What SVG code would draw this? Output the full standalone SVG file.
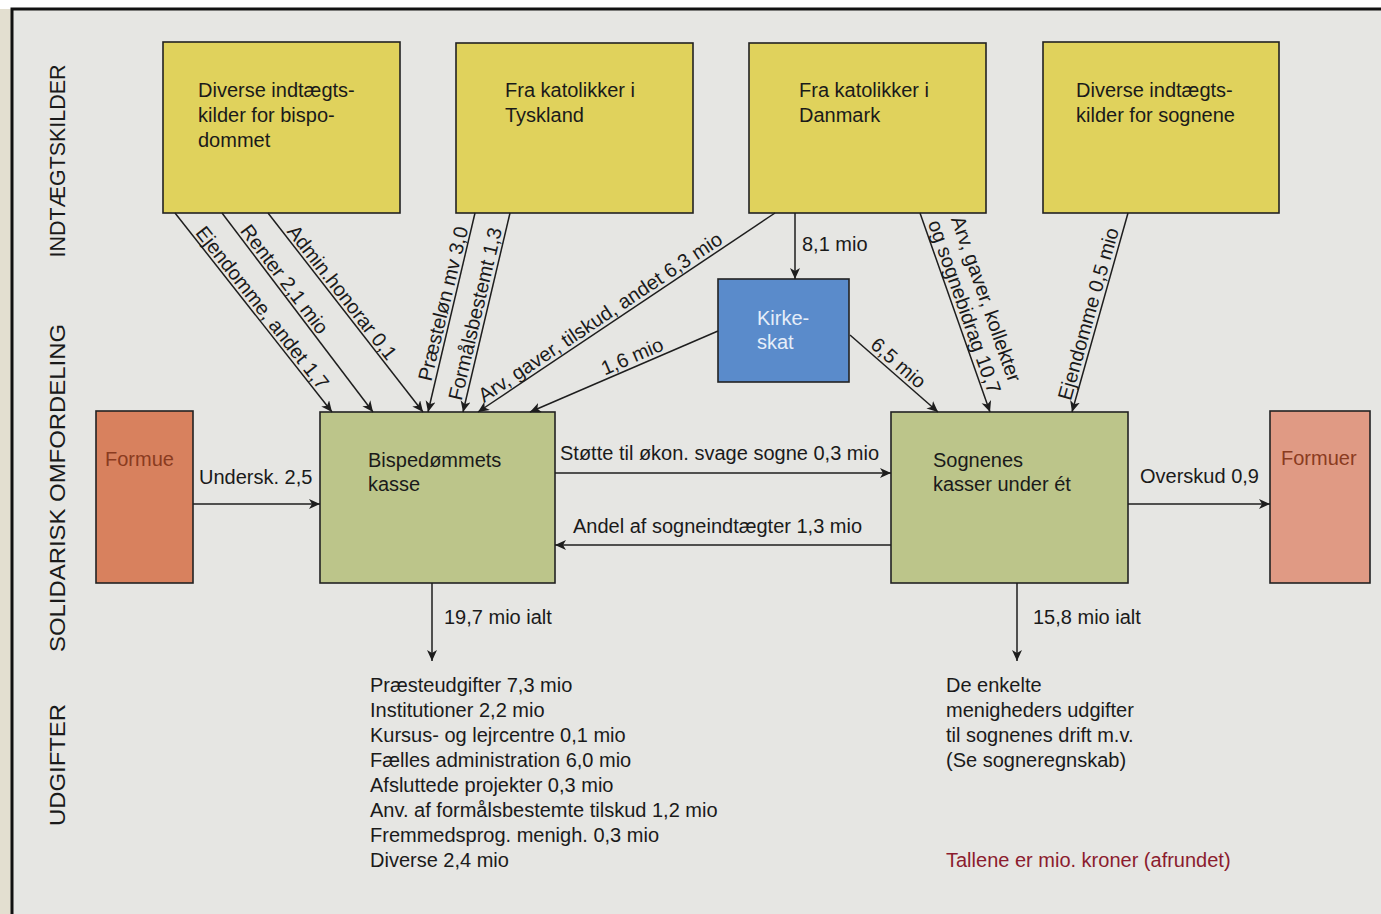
<svg xmlns="http://www.w3.org/2000/svg" width="1381" height="914" viewBox="0 0 1381 914">
<style>
text{font-family:"Liberation Sans",Arial,sans-serif;font-size:20px;fill:#1a1a1a}
.side{font-size:22px;text-anchor:middle}
.box{stroke:#222;stroke-width:1.6}
.yel{fill:#e0d25c}
.grn{fill:#bcc58a}
.con line{stroke:#1e1e1e;stroke-width:1.5;marker-end:url(#ah)}
</style>
<defs>
<marker id="ah" markerUnits="userSpaceOnUse" markerWidth="14" markerHeight="12" refX="11" refY="5" orient="auto">
<path d="M0,0 L11,5 L0,10 L3,5 z" fill="#1e1e1e"/>
</marker>
</defs>
<rect x="0" y="0" width="1381" height="914" fill="#ffffff"/>
<rect x="0" y="9" width="14" height="905" fill="#e3dfd0"/>
<rect x="12" y="9" width="1400" height="930" fill="#e6e6e3" stroke="#111" stroke-width="3"/>

<g id="sections">
<text class="side" transform="translate(65,161) rotate(-90)" textLength="193" lengthAdjust="spacingAndGlyphs">INDTÆGTSKILDER</text>
<text class="side" transform="translate(65,488) rotate(-90)" textLength="328" lengthAdjust="spacingAndGlyphs">SOLIDARISK OMFORDELING</text>
<text class="side" transform="translate(65,765) rotate(-90)" textLength="122" lengthAdjust="spacingAndGlyphs">UDGIFTER</text>
</g>

<g id="src-bisp">
<rect class="box yel" x="163" y="42" width="237" height="171"/>
<text x="198" y="97">Diverse indtægts-</text>
<text x="198" y="122">kilder for bispo-</text>
<text x="198" y="147">dommet</text>
</g>
<g id="src-tyskland">
<rect class="box yel" x="456" y="43" width="237" height="170"/>
<text x="505" y="97">Fra katolikker i</text>
<text x="505" y="122">Tyskland</text>
</g>
<g id="src-danmark">
<rect class="box yel" x="749" y="43" width="237" height="170"/>
<text x="799" y="97">Fra katolikker i</text>
<text x="799" y="122">Danmark</text>
</g>
<g id="src-sogne">
<rect class="box yel" x="1043" y="42" width="236" height="171"/>
<text x="1076" y="97">Diverse indtægts-</text>
<text x="1076" y="122">kilder for sognene</text>
</g>

<g id="kirkeskat">
<rect class="box" x="718" y="279" width="131" height="103" fill="#5a8bcb"/>
<text x="757" y="325" style="fill:#e6eef9">Kirke-</text>
<text x="757" y="349" style="fill:#e6eef9">skat</text>
</g>

<g id="formue">
<rect class="box" x="96" y="411" width="97" height="172" fill="#d8815e"/>
<text x="105" y="466" style="fill:#8a3b20">Formue</text>
</g>
<g id="bisp-kasse">
<rect class="box grn" x="320" y="412" width="235" height="171"/>
<text x="368" y="467">Bispedømmets</text>
<text x="368" y="491">kasse</text>
</g>
<g id="sogne-kasse">
<rect class="box grn" x="891" y="412" width="237" height="171"/>
<text x="933" y="467">Sognenes</text>
<text x="933" y="491">kasser under ét</text>
</g>
<g id="formuer">
<rect class="box" x="1270" y="411" width="100" height="172" fill="#e09a84"/>
<text x="1281" y="465" style="fill:#8a3b20">Formuer</text>
</g>

<g id="connectors" class="con">
<line x1="175" y1="213" x2="332" y2="412"/>
<line x1="222" y1="213" x2="373" y2="412"/>
<line x1="268" y1="213" x2="423" y2="412"/>
<line x1="475" y1="213" x2="428" y2="412"/>
<line x1="510" y1="213" x2="463" y2="412"/>
<line x1="775" y1="213" x2="478" y2="412"/>
<line x1="718" y1="331" x2="530" y2="412"/>
<line x1="795" y1="213" x2="795" y2="279"/>
<line x1="850" y1="335" x2="938" y2="412"/>
<line x1="920" y1="213" x2="990" y2="412"/>
<line x1="1128" y1="213" x2="1072" y2="412"/>
<line x1="193" y1="504" x2="320" y2="504"/>
<line x1="555" y1="473" x2="891" y2="473"/>
<line x1="891" y1="545" x2="555" y2="545"/>
<line x1="1128" y1="504" x2="1270" y2="504"/>
<line x1="432" y1="583" x2="432" y2="661"/>
<line x1="1017" y1="583" x2="1017" y2="661"/>
</g>

<g id="connector-labels">
<text transform="translate(175,213) rotate(51.7)" x="28" y="-3">Ejendomme, andet 1,7</text>
<text transform="translate(222,213) rotate(52.8)" x="25" y="-3">Renter 2,1 mio</text>
<text transform="translate(268,213) rotate(52.1)" x="26" y="-3">Admin.honorar 0,1</text>
<text transform="translate(428,412) rotate(-76.4)" x="30" y="-4">Præsteløn mv 3,0</text>
<text transform="translate(463,412) rotate(-76.7)" x="10" y="-4">Formålsbestemt 1,3</text>
<text transform="translate(478,412) rotate(-33.8)" x="10" y="-4">Arv, gaver, tilskud, andet 6,3 mio</text>
<text transform="translate(530,412) rotate(-23.3)" x="83" y="-4">1,6 mio</text>
<text x="802" y="251">8,1 mio</text>
<text transform="translate(850,335) rotate(41.2)" x="22" y="-4">6,5 mio</text>
<text transform="translate(920,213) rotate(70.6)" x="16" y="-27">Arv, gaver, kollekter</text>
<text transform="translate(920,213) rotate(70.6)" x="12" y="-4">og sognebidrag  10,7</text>
<text transform="translate(1072,412) rotate(-74.3)" x="10" y="-4">Ejendomme 0,5 mio</text>
<text x="199" y="484">Undersk. 2,5</text>
<text x="560" y="460">Støtte til økon. svage sogne 0,3 mio</text>
<text x="573" y="533">Andel af sogneindtægter 1,3 mio</text>
<text x="1140" y="483">Overskud 0,9</text>
<text x="444" y="624">19,7 mio ialt</text>
<text x="1033" y="624">15,8 mio ialt</text>
</g>

<g id="udgifter-bisp">
<text x="370" y="692">Præsteudgifter 7,3 mio</text>
<text x="370" y="717">Institutioner 2,2 mio</text>
<text x="370" y="742">Kursus- og lejrcentre 0,1 mio</text>
<text x="370" y="767">Fælles administration 6,0 mio</text>
<text x="370" y="792">Afsluttede projekter 0,3 mio</text>
<text x="370" y="817">Anv. af formålsbestemte tilskud 1,2 mio</text>
<text x="370" y="842">Fremmedsprog. menigh. 0,3 mio</text>
<text x="370" y="867">Diverse 2,4 mio</text>
</g>
<g id="udgifter-sogne">
<text x="946" y="692">De enkelte</text>
<text x="946" y="717">menigheders udgifter</text>
<text x="946" y="742">til sognenes drift m.v.</text>
<text x="946" y="767">(Se sogneregnskab)</text>
</g>
<text x="946" y="867" style="fill:#8b1c2e">Tallene er mio. kroner (afrundet)</text>
</svg>
